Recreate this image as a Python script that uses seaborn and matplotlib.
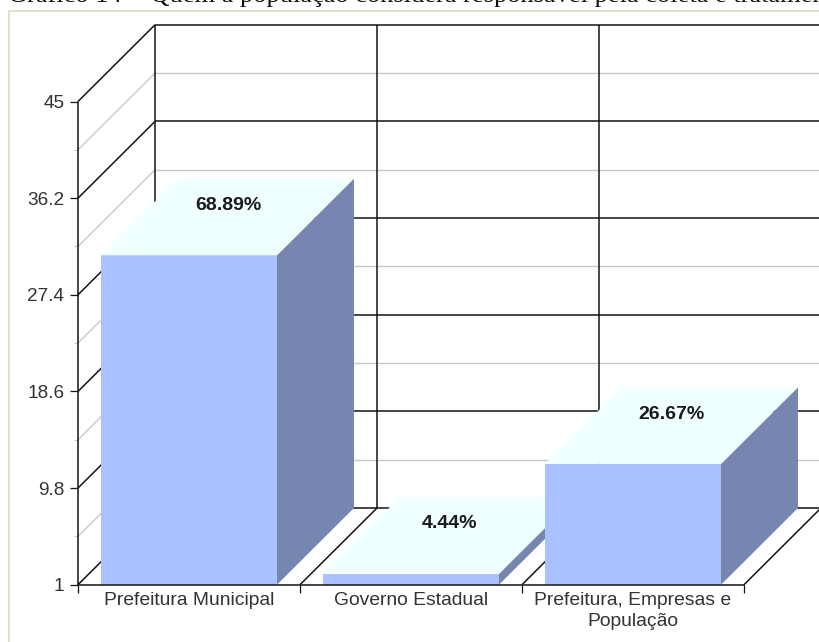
import matplotlib
matplotlib.use('Agg')
import matplotlib.pyplot as plt
import pandas as pd
import seaborn as sns
from matplotlib.patches import Polygon, Rectangle

categories = ['Prefeitura Municipal', 'Governo Estadual', 'Prefeitura, Empresas e\nPopulação']
counts = [31, 2, 12]
percent_labels = ['68.89%', '4.44%', '26.67%']
major_ticks = [1, 9.8, 18.6, 27.4, 36.2, 45]
major_labels = ['1', '9.8', '18.6', '27.4', '36.2', '45']
minor_ticks = [5.4, 14.2, 23, 31.8, 40.6]
title = 'Gráfico 14 -  Quem a população considera responsável pela coleta e tratamento'

W, H = 820, 642
FRONT, SIDE, TOP = '#aac1ff', '#7786b0', '#f0ffff'
DARK, GRAY = '#141414', '#c9c9c9'

sns.set_theme(style='white')
plt.rcParams['font.family'] = ['Liberation Sans', 'DejaVu Sans']

fig = plt.figure(figsize=(W / 100, H / 100), dpi=100, facecolor='white')
ax = fig.add_axes([78.0 / W, 1 - 584.7 / H, (744 - 78.0) / W, (584.7 - 101.5) / H])
ax.patch.set_alpha(0)

df = pd.DataFrame({'categoria': categories, 'n': counts})
sns.barplot(data=df, x='categoria', y='n', color=FRONT, saturation=1, width=176 / 222, ax=ax)
ax.set_xlim(-0.5, 2.5)
ax.set_ylim(1, 45)
ax.set_xlabel('')
ax.set_ylabel('')

# depth of the fake 3d box, in data units
dx = 77 / 222
dy = 76.7 / (483.2 / 44)
x_end = 2.5 + dx + 0.1
line = dict(clip_on=False, zorder=1, solid_capstyle='butt')

# back and left walls
for t in major_ticks:
    ax.plot([-0.5, -0.5 + dx], [t, t + dy], color=DARK, lw=1.1, **line)
    ax.plot([-0.5 + dx, x_end], [t + dy, t + dy], color=DARK, lw=1.1, **line)
for t in minor_ticks:
    ax.plot([-0.5, -0.5 + dx], [t, t + dy], color=GRAY, lw=1.0, **line)
    ax.plot([-0.5 + dx, x_end], [t + dy, t + dy], color=GRAY, lw=1.0, **line)
for b in [-0.5, 0.5, 1.5]:
    ax.plot([b + dx, b + dx], [1 + dy, 45 + dy], color=DARK, lw=1.1, **line)
for b in [0.5, 1.5, 2.5]:
    ax.plot([b, b + dx], [1, 1 + dy], color=DARK, lw=1.1, **line)

# side and top faces built on the bars seaborn drew
for i, bar in enumerate(ax.patches):
    z = 3 + i
    bar.set_zorder(z)
    bar.set_edgecolor('none')
    x0, x1, v = bar.get_x(), bar.get_x() + bar.get_width(), bar.get_height()
    ax.add_patch(Polygon([(x1, 1), (x1 + dx, 1 + dy), (x1 + dx, v + dy), (x1, v)],
                         closed=True, fc=SIDE, ec='none', clip_on=False, zorder=z))
    ax.add_patch(Polygon([(x0, v), (x0 + dx, v + dy), (x1 + dx, v + dy), (x1, v)],
                         closed=True, fc=TOP, ec='none', clip_on=False, zorder=z))
    ax.text((x0 + x1 + dx) / 2 + 0.002, v + dy / 2 + 1.05, percent_labels[i], ha='center', va='center',
            fontsize=14, fontweight='bold', color='#1a1a1a', clip_on=False, zorder=z + 1)

sns.despine(ax=ax, top=True, right=True)
for side in ['left', 'bottom']:
    ax.spines[side].set_color(DARK)
    ax.spines[side].set_linewidth(1.1)
    ax.spines[side].set_zorder(10)

ax.set_yticks(major_ticks, major_labels)
ax.set_yticks(minor_ticks, minor=True)
ax.set_xticks([-0.5, 0.5, 1.5, 2.5], ['', '', '', ''])
ax.set_xticks([0, 1, 2], categories, minor=True)
ax.tick_params(axis='y', which='major', left=True, length=5.8, width=0.9, color=DARK, pad=4,
               labelsize=13.7, labelcolor='#333333')
ax.tick_params(axis='y', which='minor', left=True, length=3, width=0.7, color=GRAY)
ax.tick_params(axis='x', which='major', bottom=True, length=5.8, width=0.9, color=DARK)
ax.tick_params(axis='x', which='minor', bottom=False, length=0, pad=5.5, labelsize=13.9,
               labelcolor='#333333')
for lab in ax.get_xticklabels(minor=True):
    lab.set_linespacing(1.3)

# outer frame and cropped caption
fig.add_artist(Rectangle((9 / W, -0.1), 1.1, 1.1 - 10.5 / H, transform=fig.transFigure,
                         fc='none', ec='#d5e1c6', lw=1.3, zorder=0))
fig.text(8 / W, 1 - 2.2 / H, title, family=['Liberation Serif', 'DejaVu Serif'], fontsize=19,
         color='#111111', va='baseline', ha='left')

fig.savefig('out.png', dpi=100)
